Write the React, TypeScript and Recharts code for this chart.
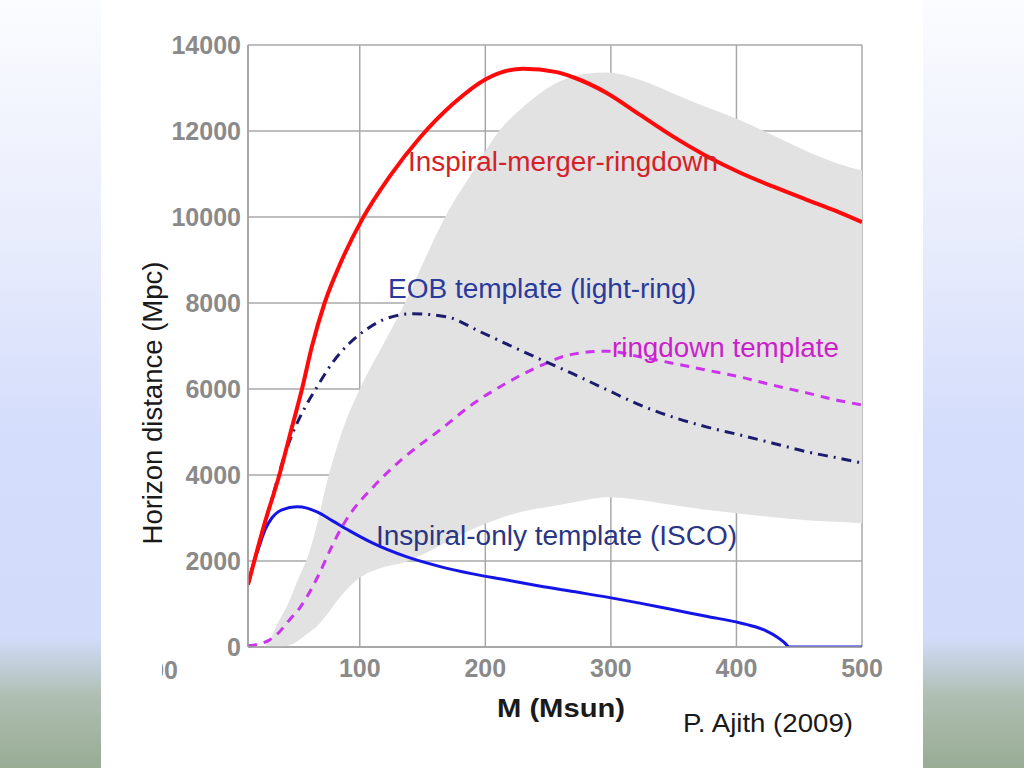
import React from 'react';
import { ComposedChart, Line, Area, XAxis, YAxis, CartesianGrid } from 'recharts';

// values: [mass (Msun), horizon distance (Mpc)]
const imrPoints: [number, number][] = [
  [11, 1450], [16, 2000], [25, 2950], [36, 4000], [45, 5000], [54, 6000], [62, 7000],
  [72, 8000], [85, 8950], [102, 9950], [124, 10950], [148, 11850], [175, 12650],
  [200, 13200], [230, 13450], [257, 13370], [270, 13250], [297, 12880], [323, 12380],
  [349, 11880], [376, 11420], [403, 11030], [429, 10710], [456, 10400], [480, 10130],
  [500, 9880],
];

const eobPoints: [number, number][] = [
  [11, 1450], [16, 2000], [25, 2950], [32, 3650], [40, 4450], [47, 5000], [56, 5550],
  [66, 6050], [78, 6600], [92, 7070], [105, 7380], [118, 7600], [142, 7750], [169, 7680],
  [196, 7330], [222, 6980], [243, 6700], [270, 6350], [297, 5980], [323, 5630],
  [349, 5350], [376, 5120], [403, 4930], [429, 4740], [456, 4540], [480, 4400], [500, 4280],
];

const ringdownPoints: [number, number][] = [
  [11, 30], [20, 70], [28, 160], [36, 350], [44, 630], [52, 900], [58, 1170], [68, 1720],
  [78, 2350], [86, 2800], [92, 3080], [110, 3700], [135, 4400], [164, 5050], [190, 5650],
  [217, 6140], [243, 6530], [268, 6800], [297, 6880], [323, 6750], [349, 6600],
  [376, 6440], [403, 6280], [429, 6090], [456, 5910], [480, 5740], [500, 5630],
];

const iscoPoints: [number, number][] = [
  [11, 1450], [15, 1900], [20, 2350], [25, 2750], [30, 3000], [38, 3190], [50, 3260],
  [58, 3230], [66, 3140], [78, 2940], [92, 2700], [110, 2420], [137, 2100], [164, 1870],
  [190, 1700], [217, 1560], [243, 1420], [270, 1290], [297, 1160], [323, 1020],
  [349, 870], [376, 715], [403, 560], [415, 470], [424, 370], [432, 240], [438, 110],
  [442, 0], [470, 0], [500, 0],
];

// grey band: [mass, lower, upper]
const bandPoints: [number, number, number][] = [
  [24, 0, 0], [28, 0, 160], [36, 0, 630], [42, 20, 950], [52, 160, 1650], [58, 300, 2050],
  [66, 480, 2850], [74, 760, 3850], [84, 1150, 4850], [100, 1610, 6000], [118, 1850, 7000],
  [136, 1970, 8000], [150, 2150, 8900], [168, 2420, 10000], [190, 2745, 11050],
  [211, 2990, 12000], [230, 3150, 12550], [259, 3300, 13150], [280, 3420, 13330],
  [297, 3480, 13360], [323, 3420, 13190], [349, 3300, 12880], [376, 3190, 12560],
  [403, 3100, 12250], [429, 3020, 11900], [456, 2950, 11530], [480, 2910, 11250],
  [500, 2880, 11080],
];

const xTicks = [100, 200, 300, 400, 500];
const yTicks = [0, 2000, 4000, 6000, 8000, 10000, 12000, 14000];

const toRows = (pts: [number, number][]) => pts.map(([m, d]) => ({ m, d }));
const bandRows = bandPoints.map(([m, lo, hi]) => ({ m, range: [lo, hi] }));

const font = '"Liberation Sans", Arial, sans-serif';
const tickStyle = { fill: '#8a8a8a', fontSize: 25, fontWeight: 700, fontFamily: font };

export default function App() {
  return (
    <div style={{ position: 'absolute', left: 0, top: 0, width: 1024, height: 768, overflow: 'hidden' }}>
      <div
        style={{
          position: 'absolute', inset: 0,
          background: 'linear-gradient(to bottom, #fbfcff 0%, #e9edfc 30%, #d4ddfb 56%, #d2dcfa 83%, #aebdb0 91%, #98ad94 100%)',
        }}
      />
      <div style={{ position: 'absolute', left: 101, top: 0, width: 822, height: 768, background: '#fff' }} />

      <div style={{ position: 'absolute', left: 0, top: 0 }}>
        <ComposedChart width={1024} height={768} margin={{ top: 45, right: 162, bottom: 81, left: 168 }}>
          <XAxis
            dataKey="m"
            type="number"
            domain={[11, 500]}
            ticks={xTicks}
            allowDataOverflow
            height={40}
            tickLine={false}
            tickSize={0}
            tickMargin={12}
            axisLine={{ stroke: '#a0a0a0', strokeWidth: 1.5 }}
            tick={tickStyle}
          />
          <YAxis
            type="number"
            domain={[0, 14000]}
            ticks={yTicks}
            allowDataOverflow
            width={80}
            tickLine={false}
            tickSize={0}
            tickMargin={7}
            axisLine={{ stroke: '#a0a0a0', strokeWidth: 1.5 }}
            tick={tickStyle}
          />
          <Area
            data={bandRows}
            dataKey="range"
            type="monotone"
            stroke="none"
            fill="#e2e2e2"
            fillOpacity={1}
            isAnimationActive={false}
            activeDot={false}
          />
          <CartesianGrid stroke="#a8a8a8" strokeWidth={1.5} />
          <Line data={toRows(iscoPoints)} dataKey="d" type="monotone" stroke="#1414e6" strokeWidth={3} dot={false} activeDot={false} isAnimationActive={false} />
          <Line data={toRows(ringdownPoints)} dataKey="d" type="monotone" stroke="#cc33ee" strokeWidth={3} strokeDasharray="9 7" dot={false} activeDot={false} isAnimationActive={false} />
          <Line data={toRows(eobPoints)} dataKey="d" type="monotone" stroke="#1c1c6e" strokeWidth={3} strokeDasharray="10 6 2 6" dot={false} activeDot={false} isAnimationActive={false} />
          <Line data={toRows(imrPoints)} dataKey="d" type="monotone" stroke="#ff0a0a" strokeWidth={4} dot={false} activeDot={false} isAnimationActive={false} />
        </ComposedChart>
      </div>

      <svg width={1024} height={768} style={{ position: 'absolute', left: 0, top: 0, pointerEvents: 'none' }} fontFamily={font}>
        <defs>
          <clipPath id="cut">
            <rect x={162} y={640} width={30} height={50} />
          </clipPath>
        </defs>
        <text x={178} y={679} textAnchor="end" clipPath="url(#cut)" fill="#8a8a8a" fontSize={25} fontWeight={700}>00</text>

        <text x={408} y={171} fill="#d42128" fontSize={27} textLength={310} lengthAdjust="spacingAndGlyphs">Inspiral-merger-ringdown</text>
        <text x={388} y={298} fill="#2a3a9c" fontSize={27} textLength={308} lengthAdjust="spacingAndGlyphs">EOB template (light-ring)</text>
        <text x={612} y={357} fill="#cc1fcc" fontSize={27} textLength={227} lengthAdjust="spacingAndGlyphs">ringdown template</text>
        <text x={376} y={545} fill="#2a3584" fontSize={27} textLength={361} lengthAdjust="spacingAndGlyphs">Inspiral-only template (ISCO)</text>

        <text
          x={0} y={0}
          transform="translate(162 403) rotate(-90)"
          textAnchor="middle"
          fill="#1a1a1a"
          fontSize={27}
          textLength={283}
          lengthAdjust="spacingAndGlyphs"
        >
          Horizon distance (Mpc)
        </text>
        <text x={497} y={717} fill="#1a1a1a" fontSize={25} fontWeight={700} textLength={128} lengthAdjust="spacingAndGlyphs">M  (Msun)</text>
        <text x={683} y={732} fill="#1a1a1a" fontSize={26} textLength={170} lengthAdjust="spacingAndGlyphs">P. Ajith (2009)</text>
      </svg>
    </div>
  );
}
